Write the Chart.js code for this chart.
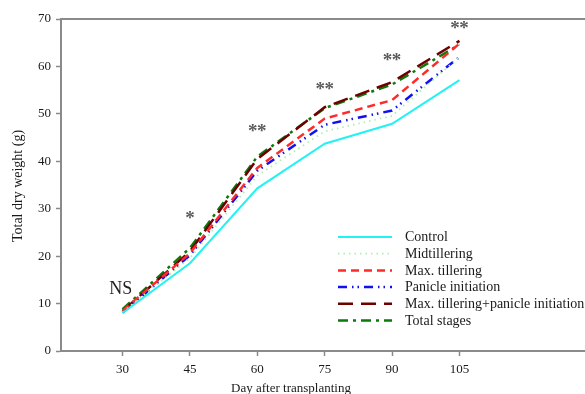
<!DOCTYPE html>
<html>
<head>
<meta charset="utf-8">
<script src="https://cdn.jsdelivr.net/npm/chart.js@4/dist/chart.umd.min.js"></script>
<style>
html,body{margin:0;padding:0;background:#fff;overflow:hidden;}
#wrap{width:600px;height:394px;position:relative;}
</style>
</head>
<body>
<div id="wrap"><canvas id="c" width="600" height="394"></canvas></div>
<script>
// ---- data ----
const days = [30, 45, 60, 75, 90, 105];
const xTicks = [30, 45, 60, 75, 90, 105];
const yTicks = [0, 10, 20, 30, 40, 50, 60, 70];
const control        = [8.0, 18.5, 34.3, 43.7, 47.9, 57.1];
const midtillering   = [8.2, 19.6, 37.0, 46.3, 49.6, 62.0];
const maxTillering   = [8.5, 20.6, 38.6, 49.0, 52.9, 64.8];
const panicleInit    = [8.1, 20.2, 38.0, 47.7, 50.7, 62.0];
const maxTillPanicle = [8.4, 21.0, 40.5, 51.4, 56.7, 65.4];
const totalStages    = [8.8, 21.7, 41.0, 51.2, 56.2, 64.6];
const seriesNames = ["Control", "Midtillering", "Max. tillering", "Panicle initiation",
                     "Max. tillering+panicle initiation", "Total stages"];
const sigLabels = ["NS", "*", "**", "**", "**", "**"];
const sigX = [29.6, 45, 60, 75, 90, 105];
const sigY = [13.1, 28.7, 47.0, 55.9, 62.0, 68.7];
const xTitle = "Day after transplanting";
const yTitle = "Total dry weight (g)";

const serif = "'Liberation Serif', 'DejaVu Serif', serif";
const axisGray = '#8a8a8a';

function pts(vals){ return days.map((d,i)=>({x:d, y:vals[i]})); }

const styles = [
  {c:'#22f2f2', w:2, dash:[]},
  {c:'#aef0ae', w:1.8, dash:[1.5,4]},
  {c:'#ff2a2a', w:2.5, dash:[8,5]},
  {c:'#1010f0', w:2.5, dash:[9,5,1.5,4,1.5,5]},
  {c:'#6e0000', w:2.5, dash:[15,8]},
  {c:'#0a7a0a', w:2.5, dash:[10,5,3,5]}
];
const seriesVals = [control, midtillering, maxTillering, panicleInit, maxTillPanicle, totalStages];

const datasets = seriesVals.map((v,i)=>({
  label: seriesNames[i],
  data: pts(v),
  borderColor: styles[i].c,
  backgroundColor: styles[i].c,
  borderWidth: styles[i].w,
  borderDash: styles[i].dash,
  pointRadius: 0,
  tension: 0,
  fill: false
}));

const decor = {
  id: 'decor',
  afterDraw(chart){
    const ctx = chart.ctx, a = chart.chartArea;
    const xs = chart.scales.x, ys = chart.scales.y;
    ctx.save();
    // top frame line
    ctx.strokeStyle = axisGray; ctx.lineWidth = 2;
    ctx.beginPath(); ctx.moveTo(a.left-1, a.top); ctx.lineTo(chart.width, a.top); ctx.stroke();
    // significance labels
    ctx.textAlign = 'center'; ctx.textBaseline = 'middle';
    sigLabels.forEach((t,i)=>{
      const px = xs.getPixelForValue(sigX[i]), py = ys.getPixelForValue(sigY[i]);
      if (t === 'NS') { ctx.fillStyle = '#222'; ctx.font = '18px ' + serif; ctx.fillText(t, px, py); }
      else {
        ctx.fillStyle = '#5a5a5a'; ctx.font = 'bold 19px ' + serif;
        const n = t.length, gap = 9;
        for (let k = 0; k < n; k++) {
          ctx.fillText('*', px + (k - (n-1)/2) * gap, py + 4);
        }
      }
    });
    // legend
    const lx0 = 338, lx1 = 392, tx = 405, ly0 = 237, dy = 16.7;
    chart.data.datasets.forEach((ds,i)=>{
      const y = ly0 + i*dy;
      ctx.strokeStyle = ds.borderColor; ctx.lineWidth = ds.borderWidth;
      ctx.setLineDash(ds.borderDash || []);
      ctx.beginPath(); ctx.moveTo(lx0, y); ctx.lineTo(lx1, y); ctx.stroke();
      ctx.setLineDash([]);
      ctx.fillStyle = '#1a1a1a'; ctx.font = '14px ' + serif;
      ctx.textAlign = 'left'; ctx.textBaseline = 'middle';
      ctx.fillText(ds.label, tx, y+0.5);
    });
    // axis titles
    ctx.fillStyle = '#1a1a1a'; ctx.font = '13px ' + serif;
    ctx.textAlign = 'center'; ctx.textBaseline = 'middle';
    ctx.fillText(xTitle, 291, 389);
    ctx.font = '14px ' + serif;
    ctx.translate(18, 186); ctx.rotate(-Math.PI/2);
    ctx.fillText(yTitle, 0, 0);
    ctx.restore();
  }
};

new Chart(document.getElementById('c'), {
  type: 'line',
  data: { datasets },
  options: {
    responsive: false,
    animation: false,
    layout: { padding: { left: 0, right: 8, top: 19, bottom: 0 } },
    plugins: { legend: { display: false }, tooltip: { enabled: false } },
    scales: {
      x: {
        type: 'linear', min: 16.3, max: 134.5,
        afterBuildTicks(s){ s.ticks = xTicks.map(v=>({value:v})); },
        afterFit(s){ s.height = 43; },
        grid: { drawOnChartArea: false, drawTicks: true, tickLength: 5, tickColor: axisGray, tickWidth: 1.5 },
        border: { display: true, color: axisGray, width: 2 },
        ticks: { color: '#1a1a1a', font: { family: serif, size: 13 }, padding: 6, maxRotation: 0, autoSkip: false }
      },
      y: {
        min: 0, max: 70,
        afterBuildTicks(s){ s.ticks = yTicks.map(v=>({value:v})); },
        afterFit(s){ s.width = 61; },
        grid: { drawOnChartArea: false, drawTicks: true, tickLength: 5, tickColor: axisGray, tickWidth: 1.5 },
        border: { display: true, color: axisGray, width: 2 },
        ticks: { color: '#1a1a1a', font: { family: serif, size: 13 }, padding: 5 }
      }
    }
  },
  plugins: [decor]
});
</script>
</body>
</html>
